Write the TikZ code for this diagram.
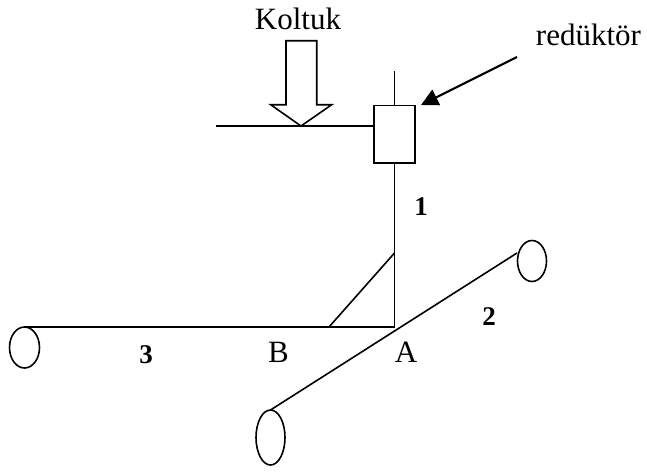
\documentclass[tikz,border=0pt]{standalone}
\usepackage{fontspec}
\setmainfont{Liberation Serif}
\usetikzlibrary{shapes.geometric,arrows.meta}
\tikzset{
  bar/.style={line width=1.6pt,black},
  wheel/.style={draw,ellipse,line width=1.6pt,inner sep=0pt,outer sep=0pt,minimum width=#1},
  lbl/.style={font=\fontsize{31}{34}\selectfont,anchor=base,inner sep=0pt},
  num/.style={font=\fontsize{27}{30}\selectfont\bfseries,anchor=base,inner sep=0pt}
}
\begin{document}
\begin{tikzpicture}[x=1pt,y=-1pt]
\useasboundingbox (0,0) rectangle (647,472);
% nodes
\node[draw,line width=1.6pt,inner sep=0pt,outer sep=0pt,minimum width=41pt,minimum height=57.5pt] (box) at (394.5,134.2) {};
\node[wheel=30pt,minimum height=41pt] (wl) at (24.5,347.5) {};
\node[wheel=29pt,minimum height=55pt] (wb) at (270.5,437.5) {};
\node[wheel=29pt,minimum height=41pt] (wr) at (532,261) {};
\coordinate (top) at (394.5,71);
\coordinate (seatl) at (216,126);
\coordinate (tip) at (301,126);
\coordinate (A) at (394.5,327);
\coordinate (S) at (394.5,253);
\coordinate (T) at (329,327);
\coordinate (L) at (24,327);
\coordinate (rs) at (517,57);
\coordinate (rt) at (421,105);
\coordinate (R) at (517,253);
% lines
\draw[bar] (top) -- (box.north);
\draw[bar] (seatl) -- (seatl -| box.west);
\draw[bar] (box.south) -- (A) -- (L);
\draw[bar] (S) -- (T);
\draw[bar] (wb.north) -- (R);
% block arrow
\draw[bar,line join=miter] (286,40.7) -- (316.7,40.7) -- (316.7,104.7) -- (331.7,104.7) -- (tip) -- (270.7,104.7) -- (286,104.7) -- cycle;
% pointer arrow
\draw[line width=2.2pt,-{Triangle[length=17pt,width=17pt]}] (rs) -- (rt);
% labels
\node[lbl] (k) at (298,29) {Koltuk};
\node[lbl] (r) at (588.5,45) {redüktör};
\node[lbl] (b) at (278.5,362) {B};
\node[lbl] (a) at (406,362) {A};
\node[num] (n1) at (421,215) {1};
\node[num] (n2) at (489,325) {2};
\node[num] (n3) at (146,363) {3};
\end{tikzpicture}
\end{document}
